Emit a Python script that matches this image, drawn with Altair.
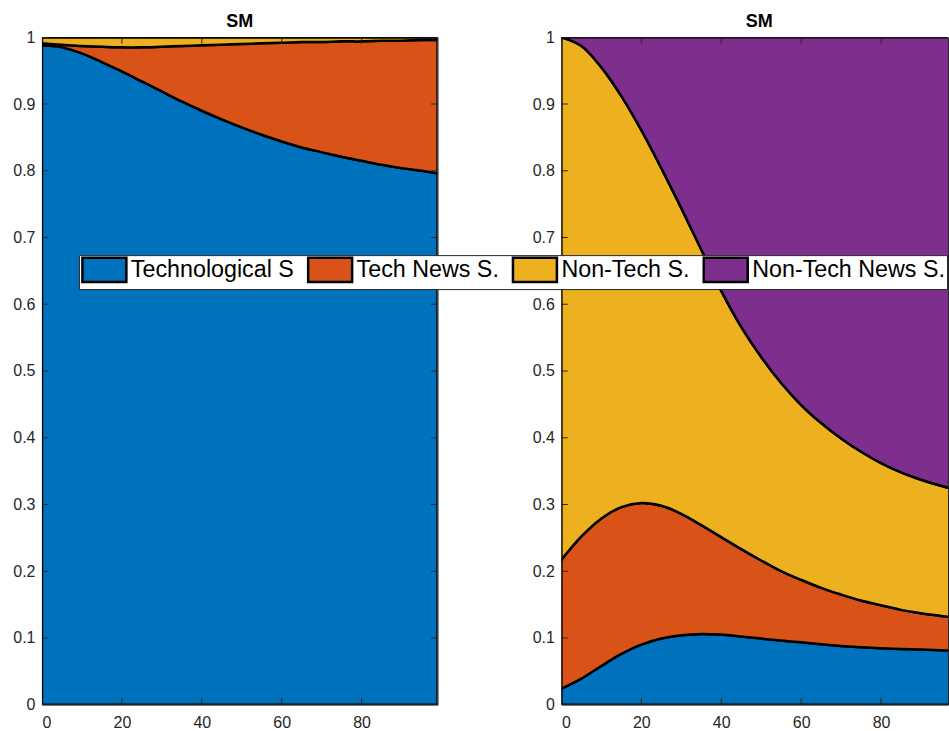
import altair as alt
import pandas as pd

# ---------------- data ----------------
x_vals = [0, 5, 10, 15, 20, 25, 30, 35, 40, 45, 50, 55, 60, 65, 70, 75, 80, 85, 90, 95, 99]

series_names = ["Technological S", "Tech News S.", "Non-Tech S.", "Non-Tech News S."]
series_colors = ["#0072BD", "#D95319", "#EDB120", "#7E2F8E"]

# upper boundary of each stacked band (cumulative shares), left panel
left_tech_top = [0.988, 0.985, 0.976, 0.963, 0.949, 0.934, 0.919, 0.904, 0.890, 0.877, 0.865,
                 0.854, 0.844, 0.835, 0.828, 0.821, 0.815, 0.809, 0.804, 0.800, 0.796]
left_technews_top = [0.991, 0.989, 0.987, 0.986, 0.985, 0.985, 0.986, 0.987, 0.988, 0.989, 0.990,
                     0.991, 0.992, 0.993, 0.993, 0.994, 0.994, 0.995, 0.995, 0.996, 0.996]
left_nontech_top = [1.0, 1.0, 1.0, 1.0, 1.0, 1.0, 1.0, 1.0, 1.0, 1.0, 1.0,
                    1.0, 1.0, 1.0, 1.0, 1.0, 1.0, 1.0, 1.0, 1.0, 1.0]

# right panel
right_tech_top = [0.024, 0.039, 0.058, 0.076, 0.090, 0.099, 0.104, 0.106, 0.105, 0.102, 0.099,
                  0.096, 0.0935, 0.0905, 0.088, 0.086, 0.0845, 0.0835, 0.0825, 0.0815, 0.081]
right_technews_top = [0.217, 0.252, 0.279, 0.296, 0.302, 0.298, 0.286, 0.269, 0.251, 0.233, 0.216,
                      0.200, 0.187, 0.175, 0.165, 0.156, 0.149, 0.142, 0.137, 0.133, 0.130]
right_nontech_top = [1.0, 0.987, 0.955, 0.912, 0.861, 0.804, 0.744, 0.682, 0.620, 0.566, 0.521,
                     0.482, 0.449, 0.422, 0.399, 0.379, 0.362, 0.348, 0.337, 0.328, 0.322]

x_tick_vals = [0, 20, 40, 60, 80]
y_tick_vals = [0, 0.1, 0.2, 0.3, 0.4, 0.5, 0.6, 0.7, 0.8, 0.9, 1]

FONT = "Liberation Sans"
AXIS_COLOR = "#262626"


def band_table(tech_top, news_top, nontech_top):
    rows = []
    for i, x in enumerate(x_vals):
        bounds = [0.0, tech_top[i], news_top[i], nontech_top[i], 1.0]
        for k, name in enumerate(series_names):
            rows.append({"x": x, "series": name, "order": k,
                         "lo": bounds[k], "hi": bounds[k + 1]})
    return pd.DataFrame(rows)


legend = alt.Legend(
    title=None, orient="none", legendX=37, legendY=218,
    direction="horizontal", columns=4,
    symbolType="M-1,-1.1H3V1.1H-1Z", symbolSize=484,
    symbolStrokeColor="black", symbolStrokeWidth=2.5, symbolOpacity=1,
    labelFont=FONT, labelFontSize=23.3, labelColor="black", labelLimit=400,
    labelOffset=25, columnPadding=8,
    fillColor="white", strokeColor=AXIS_COLOR, padding=2,
)


def panel(df, xmax, width, tick_x_right, title_dx):
    xs = alt.Scale(domain=[0, xmax], nice=False, zero=False)
    ys = alt.Scale(domain=[0, 1], nice=False)
    x_axis = alt.Axis(values=x_tick_vals, ticks=False, tickSize=0, domain=False, grid=False,
                      labelFont=FONT, labelFontSize=16, labelColor=AXIS_COLOR,
                      labelPadding=10, title=None)
    y_axis = alt.Axis(values=y_tick_vals, format="~g", ticks=False, tickSize=0, domain=False,
                      grid=False, labelFont=FONT, labelFontSize=16, labelColor=AXIS_COLOR,
                      labelPadding=7, title=None)
    area = alt.Chart(df).mark_area(
        stroke="black", strokeWidth=2.5, interpolate="catmull-rom", opacity=1, clip=True
    ).encode(
        x=alt.X("x:Q", scale=xs, axis=x_axis),
        y=alt.Y("lo:Q", scale=ys, axis=y_axis, stack=False),
        y2="hi:Q",
        color=alt.Color("series:N", scale=alt.Scale(domain=series_names, range=series_colors),
                        legend=legend),
        order="order:Q",
    )
    xt_rows = [{"x": v, "y": b} for v in x_tick_vals for b in (0, 1)]
    yt_rows = [{"x": b, "y": v} for v in y_tick_vals for b in tick_x_right]
    xt = alt.Chart(pd.DataFrame(xt_rows)).mark_tick(
        orient="vertical", size=13, thickness=1, color=AXIS_COLOR, clip=True, opacity=1
    ).encode(x=alt.X("x:Q", scale=xs, axis=x_axis), y=alt.Y("y:Q", scale=ys, axis=y_axis))
    yt = alt.Chart(pd.DataFrame(yt_rows)).mark_tick(
        orient="horizontal", size=13, thickness=1, color=AXIS_COLOR, clip=True, opacity=1
    ).encode(x=alt.X("x:Q", scale=xs, axis=x_axis), y=alt.Y("y:Q", scale=ys, axis=y_axis))
    return alt.layer(area, xt, yt).properties(
        width=width, height=668,
        title=alt.TitleParams("SM", font=FONT, fontSize=18, fontWeight="bold", color="black",
                              baseline="alphabetic", offset=9, dy=25, dx=title_dx),
    )


left = panel(band_table(left_tech_top, left_technews_top, left_nontech_top), 99, 396, [0, 99], 0)
right = panel(band_table(right_tech_top, right_technews_top, right_nontech_top), 96.75, 387, [0], 4.5)

chart = alt.hconcat(left, right, spacing=124, bounds="flush").resolve_scale(
    color="shared"
).resolve_legend(color="shared").configure_view(
    stroke=AXIS_COLOR, strokeWidth=1
).properties(background="white", padding={"left": 12, "top": 12, "right": 0, "bottom": 0})

chart.save("out.html", embed_options={"renderer": "svg", "actions": False})
